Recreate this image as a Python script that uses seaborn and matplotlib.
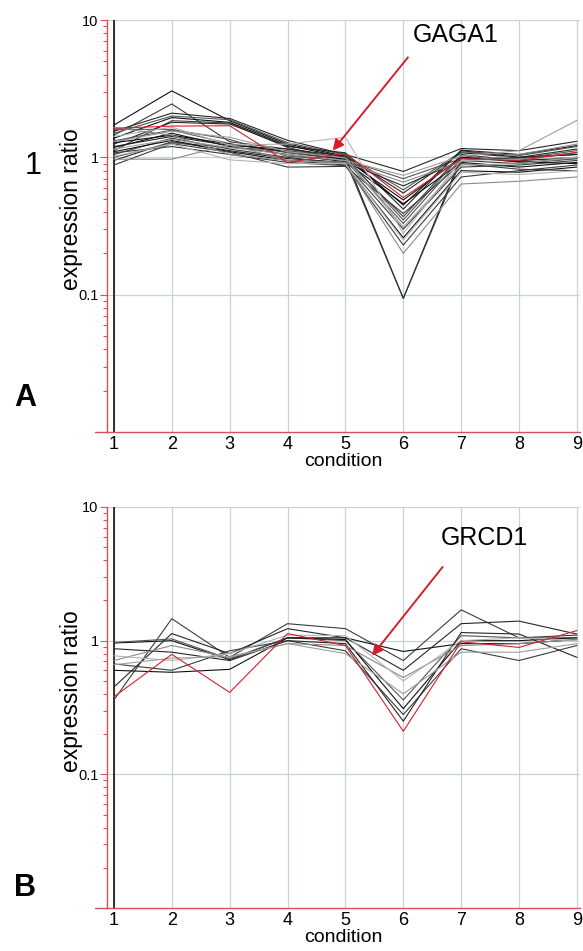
import matplotlib
matplotlib.use("Agg")
import matplotlib.pyplot as plt
import pandas as pd
import seaborn as sns
from matplotlib.lines import Line2D
from matplotlib.ticker import FixedLocator, LogLocator, NullFormatter

conditions = [1, 2, 3, 4, 5, 6, 7, 8, 9]
y_ticks = [0.1, 1, 10]
y_tick_labels = ["0.1", "1", "10"]

# panel A: GAGA1 cluster
gaga1_highlight = [1.63, 1.69, 1.70, 0.92, 1.07, 0.51, 0.98, 0.95, 1.09]
gaga1_dark = [
    [1.72, 3.05, 1.85, 1.25, 1.02, 0.45, 1.12, 1.00, 1.05],
    [1.45, 2.45, 1.30, 1.15, 0.98, 0.37, 1.05, 0.95, 1.00],
    [1.55, 2.10, 1.92, 1.33, 1.05, 0.79, 1.16, 1.12, 1.31],
    [1.50, 2.00, 1.88, 1.28, 1.04, 0.58, 1.10, 1.03, 1.20],
    [1.38, 1.95, 1.80, 1.22, 1.00, 0.094, 1.00, 0.95, 1.00],
    [1.12, 1.85, 1.78, 1.18, 0.95, 0.094, 0.95, 0.90, 0.98],
    [1.25, 1.80, 1.75, 1.20, 1.08, 0.42, 1.13, 1.05, 1.22],
    [1.32, 1.58, 1.26, 1.08, 0.96, 0.70, 0.98, 0.98, 1.12],
    [1.18, 1.50, 1.20, 1.05, 0.93, 0.46, 0.92, 0.85, 0.92],
    [1.05, 1.38, 1.15, 1.00, 0.90, 0.30, 0.85, 0.88, 0.95],
    [0.95, 1.30, 1.12, 0.98, 0.92, 0.62, 0.95, 1.00, 1.05],
    [1.00, 1.28, 1.18, 1.12, 1.00, 0.35, 1.03, 0.92, 0.98],
    [1.10, 1.33, 1.10, 0.95, 0.88, 0.26, 0.80, 0.78, 0.85],
    [0.88, 1.26, 1.09, 0.85, 0.86, 0.39, 0.90, 0.82, 0.80],
    [1.20, 1.42, 1.22, 1.15, 1.02, 0.55, 1.08, 1.00, 1.15],
    [1.60, 1.60, 1.35, 1.02, 0.95, 0.33, 0.98, 0.97, 1.08],
    [1.28, 1.45, 1.25, 1.10, 0.97, 0.49, 1.00, 0.93, 0.90],
    [1.08, 1.20, 1.05, 0.92, 0.87, 0.23, 0.72, 0.80, 0.88],
]
gaga1_light = [
    [0.97, 0.97, 1.24, 0.95, 0.92, 0.66, 0.93, 1.05, 1.25],
    [1.42, 1.66, 1.23, 1.25, 1.40, 0.28, 0.95, 0.97, 1.00],
    [1.15, 1.35, 1.18, 1.05, 0.95, 0.74, 1.02, 1.12, 1.86],
    [1.65, 1.45, 1.05, 0.95, 0.90, 0.20, 0.64, 0.67, 0.72],
    [1.02, 1.25, 0.96, 0.90, 0.90, 0.25, 0.78, 0.75, 0.80],
    [1.30, 1.55, 1.40, 1.10, 0.99, 0.31, 0.88, 0.90, 1.00],
]

# panel B: GRCD1 cluster
grcd1_highlight = [0.38, 0.79, 0.41, 1.13, 0.92, 0.21, 0.98, 0.89, 1.19]
grcd1_dark = [
    [0.96, 1.00, 0.72, 1.05, 1.05, 0.83, 0.95, 0.95, 1.02],
    [0.36, 1.46, 0.75, 1.34, 1.23, 0.71, 1.70, 1.05, 1.10],
    [0.45, 1.13, 0.80, 1.23, 1.05, 0.60, 1.34, 1.40, 1.12],
    [0.97, 1.03, 0.73, 1.05, 1.00, 0.36, 1.09, 1.05, 1.05],
    [0.60, 0.58, 0.61, 1.05, 1.02, 0.31, 1.00, 1.00, 1.05],
    [0.67, 0.60, 0.84, 1.00, 0.84, 0.28, 0.87, 0.71, 0.92],
    [0.87, 0.82, 0.71, 1.00, 0.95, 0.25, 1.15, 1.12, 0.75],
]
grcd1_light = [
    [0.71, 0.92, 0.75, 0.95, 0.92, 0.53, 0.92, 0.95, 1.02],
    [0.77, 0.71, 0.80, 1.10, 1.09, 0.50, 1.00, 1.05, 1.00],
    [0.66, 0.74, 0.76, 0.95, 0.80, 0.40, 0.82, 0.82, 0.95],
]

DARK = ["#111111", "#3c3c3c", "#262626", "#555555"]
LIGHT = ["#8a8a8a", "#b4b4b4", "#9e9e9e"]
RED = "#d5202c"
SPINE_RED = "#d9505a"
GRID = "#c8d3d8"


def profiles_frame(dark, light, highlight):
    rows, colours = [], {}
    for group, profiles, shades in (("dark", dark, DARK), ("light", light, LIGHT)):
        for i, values in enumerate(profiles):
            name = f"{group}{i}"
            colours[name] = shades[i % len(shades)]
            rows += [(name, c, v) for c, v in zip(conditions, values)]
    rows += [("highlight", c, v) for c, v in zip(conditions, highlight)]
    colours["highlight"] = RED
    return pd.DataFrame(rows, columns=["profile", "condition", "ratio"]), colours


def draw_panel(ax, dark, light, highlight):
    df, colours = profiles_frame(dark, light, highlight)
    order = [p for p in colours if p != "highlight"] + ["highlight"]
    sns.lineplot(data=df, x="condition", y="ratio", hue="profile",
                 hue_order=order, palette=colours, estimator=None,
                 linewidth=0.8, legend=False, ax=ax, zorder=3)

    ax.set_yscale("log")
    ax.set_ylim(0.01, 10)
    ax.set_xlim(0.88, 9.06)
    ax.set_xticks(conditions)
    ax.yaxis.set_major_locator(FixedLocator(y_ticks))
    ax.set_yticklabels(y_tick_labels)
    ax.yaxis.set_minor_locator(LogLocator(base=10, subs=range(2, 10)))
    ax.yaxis.set_minor_formatter(NullFormatter())

    ax.grid(which="major", color=GRID, linewidth=0.9)
    ax.grid(which="minor", visible=False)
    ax.set_axisbelow(True)
    ax.axvline(1, color="black", linewidth=1.1, zorder=2)

    for side in ("top", "right"):
        ax.spines[side].set_visible(False)
    for side in ("left", "bottom"):
        ax.spines[side].set_color(SPINE_RED)
        ax.spines[side].set_linewidth(1.0)
    # bottom axis line runs a little past the left spine
    ax.add_line(Line2D([-0.025, 0], [0, 0], transform=ax.transAxes,
                       color=SPINE_RED, linewidth=1.0, clip_on=False))

    ax.tick_params(axis="y", which="both", left=True, direction="out")
    ax.tick_params(axis="y", which="major", length=5, width=0.8,
                   colors=SPINE_RED, labelcolor="black", labelsize=10.5, pad=1)
    ax.tick_params(axis="y", which="minor", length=3, width=0.8,
                   colors=SPINE_RED)
    ax.tick_params(axis="x", bottom=False, length=0, labelcolor="black",
                   labelsize=13, pad=3)

    ax.set_xlabel("condition", fontsize=14, labelpad=0, color="black")
    ax.set_ylabel("expression ratio", fontsize=16.5, color="black")
    ax.yaxis.set_label_coords(-0.05, 0.54)


sns.set_style("white")
plt.rcParams["font.family"] = ["Liberation Sans", "DejaVu Sans"]
plt.rcParams["text.color"] = "black"

fig = plt.figure(figsize=(5.83, 9.51), dpi=100)
ax_a = fig.add_axes([0.1835, 0.5457, 0.812, 0.4332])
ax_b = fig.add_axes([0.1835, 0.0452, 0.812, 0.4217])

draw_panel(ax_a, gaga1_dark, gaga1_light, gaga1_highlight)
draw_panel(ax_b, grcd1_dark, grcd1_light, grcd1_highlight)

arrow = dict(arrowstyle="-|>", color=RED, linewidth=1.4,
             mutation_scale=16, shrinkA=0, shrinkB=0)
ax_a.annotate("", xy=(4.78, 1.12), xytext=(6.08, 5.35),
              arrowprops=arrow, zorder=5)
ax_a.text(6.17, 7.74, "GAGA1", fontsize=18, va="center", ha="left",
          color="black")

ax_b.annotate("", xy=(5.46, 0.77), xytext=(6.68, 3.56),
              arrowprops=arrow, zorder=5)
ax_b.text(6.65, 5.87, "GRCD1", fontsize=18, va="center", ha="left",
          color="black")

fig.text(33 / 583, 1 - 166 / 951, "1", fontsize=22, ha="center",
         va="center", color="black")
fig.text(25 / 583, 1 - 398 / 951, "A", fontsize=22, fontweight="bold",
         ha="center", va="center", color="black")
fig.text(25 / 583, 1 - 888 / 951, "B", fontsize=22, fontweight="bold",
         ha="center", va="center", color="black")

fig.savefig("out.png", dpi=100)
